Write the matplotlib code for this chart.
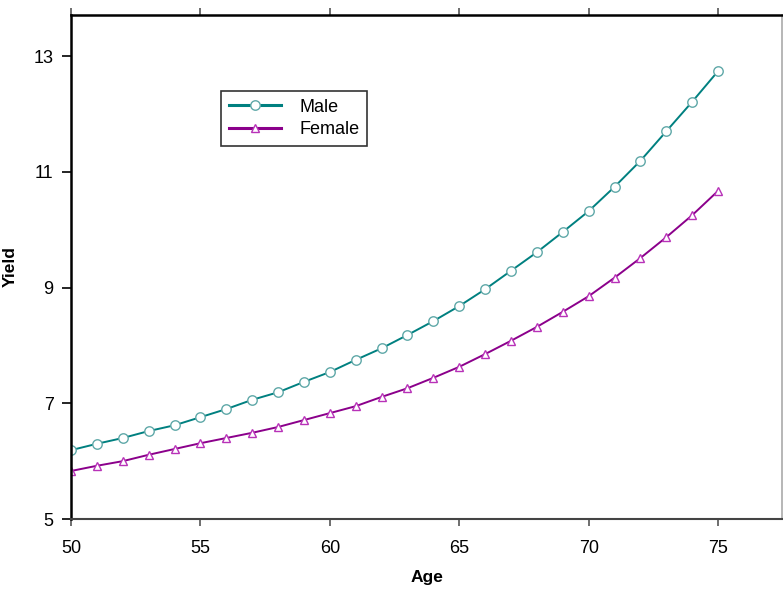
import numpy as np
import matplotlib.pyplot as plt

plt.rcParams['font.family'] = ['Liberation Sans', 'DejaVu Sans']

age = list(range(50, 76))
male = [6.19, 6.30, 6.40, 6.52, 6.62, 6.76, 6.90, 7.06, 7.19, 7.37, 7.54, 7.75, 7.95,
        8.18, 8.42, 8.68, 8.97, 9.29, 9.61, 9.96, 10.32, 10.74, 11.19, 11.70, 12.21, 12.74]
female = [5.83, 5.92, 6.00, 6.11, 6.21, 6.31, 6.40, 6.49, 6.59, 6.71, 6.83, 6.95, 7.11,
          7.26, 7.44, 7.63, 7.85, 8.08, 8.32, 8.58, 8.85, 9.17, 9.51, 9.87, 10.25, 10.67]

fig = plt.figure(figsize=(7.83, 5.90), dpi=100)
ax = fig.add_axes([0.0907, 0.1203, 0.908, 0.8543])

ax.plot(age, male, color='#008080', lw=1.4, marker='o', ms=6.8,
        mfc='white', mec='#5fa8a8', mew=1.0, label='Male')
ax.plot(age, female, color='#8b008b', lw=1.4, marker='^', ms=6.3,
        mfc='white', mec='#b832b8', mew=1.0, label='Female')

ax.set_xlim(50, 77.47)
ax.set_ylim(5, 13.71)
ax.set_xticks([50, 55, 60, 65, 70, 75])
ax.set_yticks([5, 7, 9, 11, 13])
ax.tick_params(axis='both', direction='out', width=1.2, labelsize=13)
ax.tick_params(axis='x', top=True, bottom=True, length=5, pad=10,
               colors='#555555', labelcolor='black')
ax.tick_params(axis='y', length=6.5, pad=6, colors='black')

ax.spines['left'].set_linewidth(1.8)
ax.spines['top'].set_linewidth(1.8)
ax.spines['bottom'].set_linewidth(1.5)
ax.spines['bottom'].set_color('#444444')
ax.spines['right'].set_color('#aaaaaa')
ax.spines['right'].set_linewidth(1.2)

ax.set_xlabel('Age', fontsize=12.5, fontweight='bold')
ax.set_ylabel('Yield', fontsize=12.5, fontweight='bold')
ax.xaxis.set_label_coords(0.5, -0.102)
ax.yaxis.set_label_coords(-0.075, 0.5)

leg = ax.legend(loc='upper left', bbox_to_anchor=(0.211, 0.849), fontsize=13,
                frameon=True, fancybox=False, borderpad=0.42, labelspacing=0.3,
                handlelength=2.9, handletextpad=1.0, borderaxespad=0)
leg.get_frame().set_edgecolor('black')
leg.get_frame().set_linewidth(1.2)
for h in leg.get_lines():
    h.set_linewidth(2.2)

fig.savefig('out.png', dpi=100)
